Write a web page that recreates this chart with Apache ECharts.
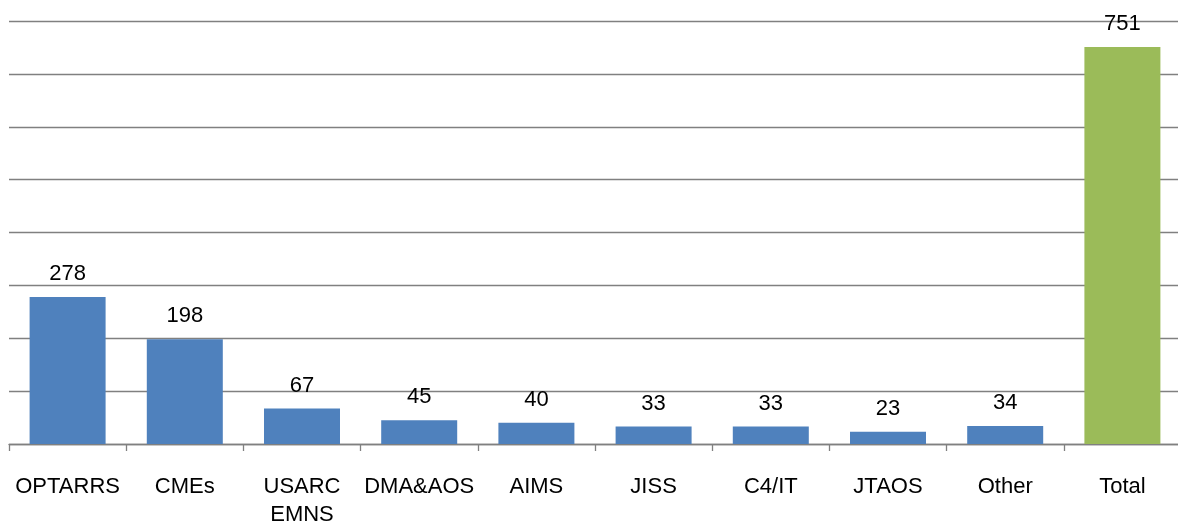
<!DOCTYPE html>
<html><head><meta charset="utf-8">
<script src="https://cdn.jsdelivr.net/npm/echarts@6/dist/echarts.min.js"></script>
<style>html,body{margin:0;padding:0;background:#fff}#c{width:1178px;height:525px}</style>
</head><body><div id="c"></div>
<script>
const categories = ['OPTARRS','CMEs','USARC\nEMNS','DMA&AOS','AIMS','JISS','C4/IT','JTAOS','Other','Total'];
const values = [278,198,67,45,40,33,33,23,34,751];
const colors = ['#4F81BD','#4F81BD','#4F81BD','#4F81BD','#4F81BD','#4F81BD','#4F81BD','#4F81BD','#4F81BD','#9BBB59'];
const font = '"Liberation Sans Narrow","Arial Narrow","Liberation Sans",sans-serif';
const chart = echarts.init(document.getElementById('c'));
chart.setOption({
  animation:false,
  grid:{left:9,top:21,width:1172,height:423,containLabel:false,outerBoundsMode:'none'},
  xAxis:{type:'category',data:categories,
    axisLine:{lineStyle:{color:'#808080',width:1.3}},
    axisTick:{show:true,length:7,lineStyle:{color:'#808080',width:1.3}},
    axisLabel:{fontFamily:font,fontSize:22,color:'#000',margin:29,lineHeight:28,interval:0}},
  yAxis:{type:'value',min:0,max:800,interval:100,
    axisLabel:{show:false},axisLine:{show:false},axisTick:{show:false},
    splitLine:{lineStyle:{color:'#808080',width:1.3}}},
  series:[{type:'bar',barWidth:76,barGap:0,
    data:values.map((v,i)=>({value:v,itemStyle:{color:colors[i]}})),
    label:{show:true,position:'top',distance:12,fontFamily:font,fontSize:22,color:'#000'}}]
});
</script></body></html>
